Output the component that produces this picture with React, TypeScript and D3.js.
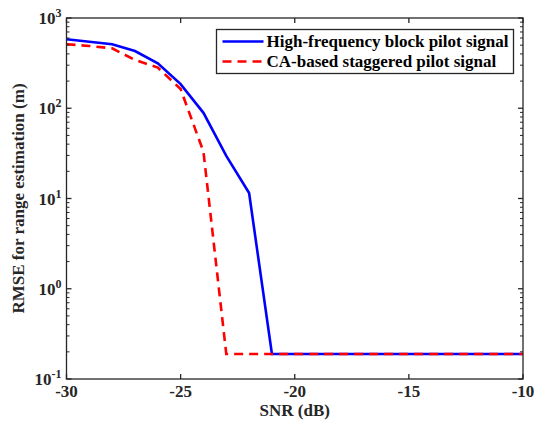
import React from "react";
import * as d3 from "d3";

const snr = [-30, -29, -28, -27, -26, -25, -24, -23, -22, -21, -20, -19, -18, -17, -16, -15, -14, -13, -12, -11, -10];
const blockPilot = [581, 545, 512, 430, 315, 185, 89, 29.6, 11.5, 0.189, 0.189, 0.189, 0.189, 0.189, 0.189, 0.189, 0.189, 0.189, 0.189, 0.189, 0.189];
const staggeredPilot = [512, 490, 461, 343, 282, 163, 33, 0.189, 0.189, 0.189, 0.189, 0.189, 0.189, 0.189, 0.189, 0.189, 0.189, 0.189, 0.189, 0.189, 0.189];
const xTicks = [-30, -25, -20, -15, -10];
const yExps = [-1, 0, 1, 2, 3];
const seriesNames = ["High-frequency block pilot signal", "CA-based staggered pilot signal"];

const W = 534, H = 426;
const L = 66.5, R = 523, T = 18, B = 379;
const FONT = "'Liberation Serif', 'Times New Roman', serif";
const AX = "#262626";
const FS = 17;

export default function App() {
  const x = d3.scaleLinear().domain([-30, -10]).range([L, R]);
  const y = d3.scaleLog().domain([0.1, 1000]).range([B, T]);
  const line = d3.line<number>().x((_, i) => x(snr[i])).y((d) => y(d));

  const minor: number[] = [];
  for (let e = -1; e < 3; e++) for (let k = 2; k <= 9; k++) minor.push(k * Math.pow(10, e));

  const lx = 216.5, ly = 29.5, lw = 297, lh = 44;

  return (
    <svg width={W} height={H} style={{ position: "absolute", left: 0, top: 0, background: "#fff" }}>
      <rect x={0} y={0} width={W} height={H} fill="#fff" />
      <path d={line(blockPilot) || ""} fill="none" stroke="#0000ff" strokeWidth={2.6} />
      <path d={line(staggeredPilot) || ""} fill="none" stroke="#ff0000" strokeWidth={2.6} strokeDasharray="9,6" />
      {/* axes box */}
      <rect x={L} y={T} width={R - L} height={B - T} fill="none" stroke={AX} strokeWidth={1.3} />
      {xTicks.map((t) => (
        <g key={"xt" + t}>
          <line x1={x(t)} x2={x(t)} y1={B} y2={B - 5} stroke={AX} strokeWidth={1.3} />
          <line x1={x(t)} x2={x(t)} y1={T} y2={T + 5} stroke={AX} strokeWidth={1.3} />
          <text x={x(t)} y={B + 18} textAnchor="middle" fontFamily={FONT} fontWeight="bold" fontSize={FS} fill={AX}>{t}</text>
        </g>
      ))}
      {yExps.map((e) => {
        const v = Math.pow(10, e);
        return (
          <g key={"yt" + e}>
            <line x1={L} x2={L + 5} y1={y(v)} y2={y(v)} stroke={AX} strokeWidth={1.3} />
            <line x1={R} x2={R - 5} y1={y(v)} y2={y(v)} stroke={AX} strokeWidth={1.3} />
            <text x={L - 5} y={y(v) + 6} textAnchor="end" fontFamily={FONT} fontWeight="bold" fontSize={FS} fill={AX}>
              10<tspan dy={-7} fontSize={12}>{e}</tspan>
            </text>
          </g>
        );
      })}
      {minor.map((v, i) => (
        <g key={"mn" + i}>
          <line x1={L} x2={L + 3} y1={y(v)} y2={y(v)} stroke={AX} strokeWidth={1} />
          <line x1={R} x2={R - 3} y1={y(v)} y2={y(v)} stroke={AX} strokeWidth={1} />
        </g>
      ))}
      <text x={(L + R) / 2} y={416} textAnchor="middle" fontFamily={FONT} fontWeight="bold" fontSize={FS} fill={AX}>SNR (dB)</text>
      <text transform={`translate(24,${(T + B) / 2}) rotate(-90)`} textAnchor="middle" fontFamily={FONT} fontWeight="bold" fontSize={FS} fill={AX}>RMSE for range estimation (m)</text>
      {/* legend */}
      <rect x={lx} y={ly} width={lw} height={lh} fill="#fff" stroke={AX} strokeWidth={1.3} />
      <line x1={lx + 6} x2={lx + 47} y1={ly + 12} y2={ly + 12} stroke="#0000ff" strokeWidth={2.6} />
      <line x1={lx + 6} x2={lx + 47} y1={ly + 32} y2={ly + 32} stroke="#ff0000" strokeWidth={2.6} strokeDasharray="9,6" />
      <text x={lx + 50} y={ly + 17.5} fontFamily={FONT} fontWeight="bold" fontSize={FS} fill="#000">{seriesNames[0]}</text>
      <text x={lx + 50} y={ly + 37.5} fontFamily={FONT} fontWeight="bold" fontSize={FS} fill="#000">{seriesNames[1]}</text>
    </svg>
  );
}
